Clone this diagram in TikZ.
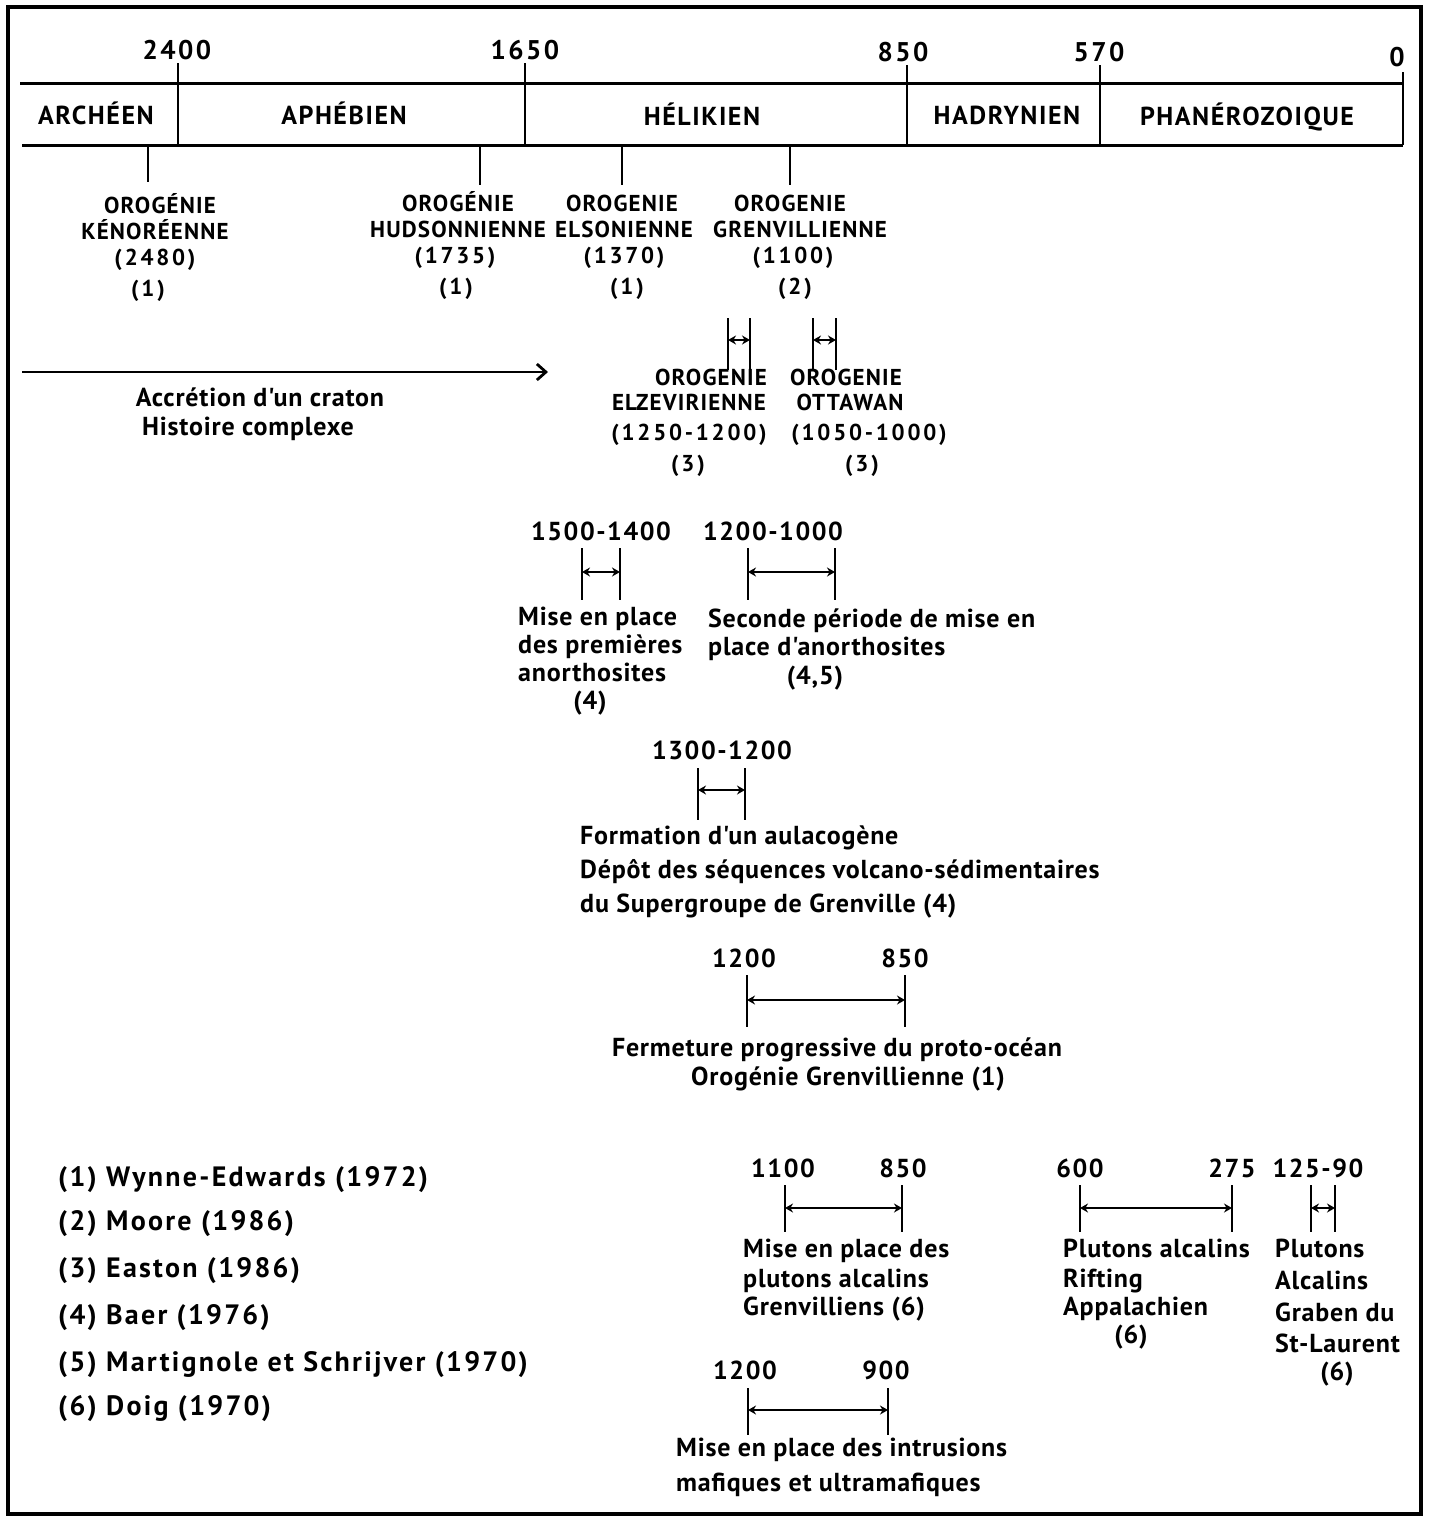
\documentclass[tikz,border=0pt]{standalone}
\usepackage{fontspec}
\setmainfont{PT Sans}
\newfontfamily\lsthree{PT Sans}[LetterSpace=3]
\newfontfamily\lsfive{PT Sans}[LetterSpace=5]
\newfontfamily\lssix{PT Sans}[LetterSpace=6]
\newfontfamily\lseight{PT Sans}[LetterSpace=8]
\newfontfamily\lsnine{PT Sans}[LetterSpace=9]
\newfontfamily\lstwelve{PT Sans}[LetterSpace=12]
\usetikzlibrary{arrows.meta}
\newcommand{\brk}[6]{%
  \coordinate (#1-l) at (#2,#6);
  \coordinate (#1-r) at (#3,#6);
  \draw[vln] (#2,#4) -- (#2,#5);
  \draw[vln] (#3,#4) -- (#3,#5);
  \draw[spanarr] (#1-l) -- (#1-r);}
\begin{document}
\begin{tikzpicture}[x=1pt,y=-1pt,
  lt/.style={inner sep=0pt, text depth=0pt},
  lbig/.style={lt, font=\fontsize{26}{30}\selectfont\lssix\bfseries, text height=18pt},
  lbign/.style={lt, font=\fontsize{27}{30}\selectfont\lsnine\bfseries, text height=19pt},
  lcap/.style={lt, font=\fontsize{23}{26}\selectfont\lsfive\bfseries, text height=16pt},
  lcapn/.style={lt, font=\fontsize{23}{26}\selectfont\lstwelve\bfseries, text height=16pt},
  ltxt/.style={lt, font=\fontsize{26}{28}\selectfont\lsthree\bfseries, text height=18pt},
  lnum/.style={lt, font=\fontsize{26}{28}\selectfont\lssix\bfseries, text height=18pt},
  lref/.style={lt, font=\fontsize{28}{30}\selectfont\lseight\bfseries, text height=19pt, anchor=west},
  bandline/.style={line width=3pt},
  vln/.style={line width=2.8pt},
  spanarr/.style={line width=2.8pt, {Stealth[length=8pt,width=9pt]}-{Stealth[length=8pt,width=9pt]}},
]
\useasboundingbox (0,0) rectangle (1429,1521);
\draw[line width=4pt] (8,7) rectangle (1421,1514);

% time band
\coordinate (bandTL) at (20,83);
\coordinate (bandTR) at (1403,83);
\coordinate (bandBL) at (22,145);
\coordinate (bandBR) at (1403,145);
\draw[bandline] (bandTL) -- (bandTR);
\draw[bandline] (bandBL) -- (bandBR);
\foreach \x/\y in {178/63,525/63,907/65,1100/65,1403/72} \draw[vln] (\x,\y) -- (\x,145);

\node[lbign] (t2400) at (177,50) {2400};
\node[lbign] (t1650) at (525,50) {1650};
\node[lbign] (t850) at (903,52) {850};
\node[lbign] (t570) at (1099,52) {570};
\node[lbign] (t0) at (1397,57) {0};

\node[lbig] (e1) at (96,115) {ARCHÉEN};
\node[lbig] (e2) at (344,115) {APHÉBIEN};
\node[lbig] (e3) at (702,116) {HÉLIKIEN};
\node[lbig] (e4) at (1007,115) {HADRYNIEN};
\node[lbig] (e5) at (1247,116) {PHANÉROZOIQUE};

% orogenies
\foreach \x/\y in {148/182,480/185,622/185,790/185} \draw[vln] (\x,145) -- (\x,\y);
\node[lcap] (k1) at (160,205) {OROGÉNIE};
\node[lcap] (k2) at (155,231) {KÉNORÉENNE};
\node[lcapn] (k3) at (155,257) {(2480)};
\node[lcapn] (k4) at (148,288) {(1)};
\node[lcap] (h1) at (458,203) {OROGÉNIE};
\node[lcap] (h2) at (458,229) {HUDSONNIENNE};
\node[lcapn] (h3) at (455,255) {(1735)};
\node[lcapn] (h4) at (456,286) {(1)};
\node[lcap] (s1) at (622,203) {OROGENIE};
\node[lcap] (s2) at (624,229) {ELSONIENNE};
\node[lcapn] (s3) at (624,255) {(1370)};
\node[lcapn] (s4) at (627,286) {(1)};
\node[lcap] (g1) at (790,203) {OROGENIE};
\node[lcap] (g2) at (800,229) {GRENVILLIENNE};
\node[lcapn] (g3) at (793,255) {(1100)};
\node[lcapn] (g4) at (795,286) {(2)};

% accretion arrow
\coordinate (arrA) at (22,372);
\coordinate (arrB) at (548,372);
\draw[line width=2.8pt, -{Straight Barb[length=9pt,width=16pt]}] (arrA) -- (arrB);
\node[ltxt] (a1) at (260,397) {Accrétion d'un craton};
\node[ltxt] (a2) at (248,426) {Histoire complexe};

% Elzevirienne / Ottawan
\brk{bz}{728}{750}{318}{370}{340}
\brk{bo}{813}{836}{318}{370}{340}
\node[lcap] (z1) at (711,377) {OROGENIE};
\node[lcap] (z2) at (689,402) {ELZEVIRIENNE};
\node[lcapn] (z3) at (689,432) {(1250-1200)};
\node[lcapn] (z4) at (688,463) {(3)};
\node[lcap] (o1) at (846,377) {OROGENIE};
\node[lcap] (o2) at (850,402) {OTTAWAN};
\node[lcapn] (o3) at (869,432) {(1050-1000)};
\node[lcapn] (o4) at (862,463) {(3)};

% anorthosites
\node[lnum] (p1) at (601,531) {1500-1400};
\brk{bp}{582}{620}{548}{600}{572}
\node[ltxt,anchor=west] (p2) at (518,616) {Mise en place};
\node[ltxt,anchor=west] (p3) at (518,644) {des premières};
\node[ltxt,anchor=west] (p4) at (518,672) {anorthosites};
\node[ltxt] (p5) at (590,700) {(4)};

\node[lnum] (q1) at (773,531) {1200-1000};
\brk{bq}{748}{835}{548}{600}{572}
\node[ltxt,anchor=west] (q2) at (708,618) {Seconde période de mise en};
\node[ltxt,anchor=west] (q3) at (708,646) {place d'anorthosites};
\node[ltxt] (q4) at (815,675) {(4,5)};

% aulacogene
\node[lnum] (r1) at (722,750) {1300-1200};
\brk{br}{698}{745}{768}{820}{790}
\node[ltxt,anchor=west] (r2) at (580,835) {Formation d'un aulacogène};
\node[ltxt,anchor=west] (r3) at (580,869) {Dépôt des séquences volcano-sédimentaires};
\node[ltxt,anchor=west] (r4) at (580,903) {du Supergroupe de Grenville (4)};

% fermeture
\node[lnum] (f1) at (744,958) {1200};
\node[lnum] (f2) at (905,958) {850};
\brk{bf}{747}{905}{975}{1027}{1000}
\node[ltxt] (f3) at (837,1047) {Fermeture progressive du proto-océan};
\node[ltxt] (f4) at (848,1076) {Orogénie Grenvillienne (1)};

% references
\node[lref] (ref1) at (58,1177) {(1) Wynne-Edwards (1972)};
\node[lref] (ref2) at (58,1221) {(2) Moore (1986)};
\node[lref] (ref3) at (58,1268) {(3) Easton (1986)};
\node[lref] (ref4) at (58,1315) {(4) Baer (1976)};
\node[lref] (ref5) at (58,1362) {(5) Martignole et Schrijver (1970)};
\node[lref] (ref6) at (58,1406) {(6) Doig (1970)};

% plutons grenvilliens
\node[lnum] (m1) at (783,1168) {1100};
\node[lnum] (m2) at (903,1168) {850};
\brk{bm}{785}{902}{1185}{1232}{1208}
\node[ltxt,anchor=west] (m3) at (743,1248) {Mise en place des};
\node[ltxt,anchor=west] (m4) at (743,1278) {plutons alcalins};
\node[ltxt,anchor=west] (m5) at (743,1306) {Grenvilliens (6)};

% plutons appalachiens
\node[lnum] (u1) at (1080,1168) {600};
\node[lnum] (u2) at (1232,1168) {275};
\brk{bu}{1080}{1232}{1185}{1232}{1208}
\node[ltxt,anchor=west] (u3) at (1063,1248) {Plutons alcalins};
\node[ltxt,anchor=west] (u4) at (1063,1278) {Rifting};
\node[ltxt,anchor=west] (u5) at (1063,1306) {Appalachien};
\node[ltxt] (u6) at (1131,1334) {(6)};

% st-laurent
\node[lnum] (w1) at (1318,1168) {125-90};
\brk{bw}{1311}{1335}{1185}{1232}{1208}
\node[ltxt,anchor=west] (w2) at (1275,1248) {Plutons};
\node[ltxt,anchor=west] (w3) at (1275,1280) {Alcalins};
\node[ltxt,anchor=west] (w4) at (1275,1312) {Graben du};
\node[ltxt,anchor=west] (w5) at (1275,1343) {St-Laurent};
\node[ltxt] (w6) at (1337,1371) {(6)};

% intrusions
\node[lnum] (i1) at (745,1370) {1200};
\node[lnum] (i2) at (886,1370) {900};
\brk{bi}{748}{888}{1388}{1435}{1410}
\node[ltxt,anchor=west] (i3) at (676,1447) {Mise en place des intrusions};
\node[ltxt,anchor=west] (i4) at (676,1482) {mafiques et ultramafiques};
\end{tikzpicture}
\end{document}
